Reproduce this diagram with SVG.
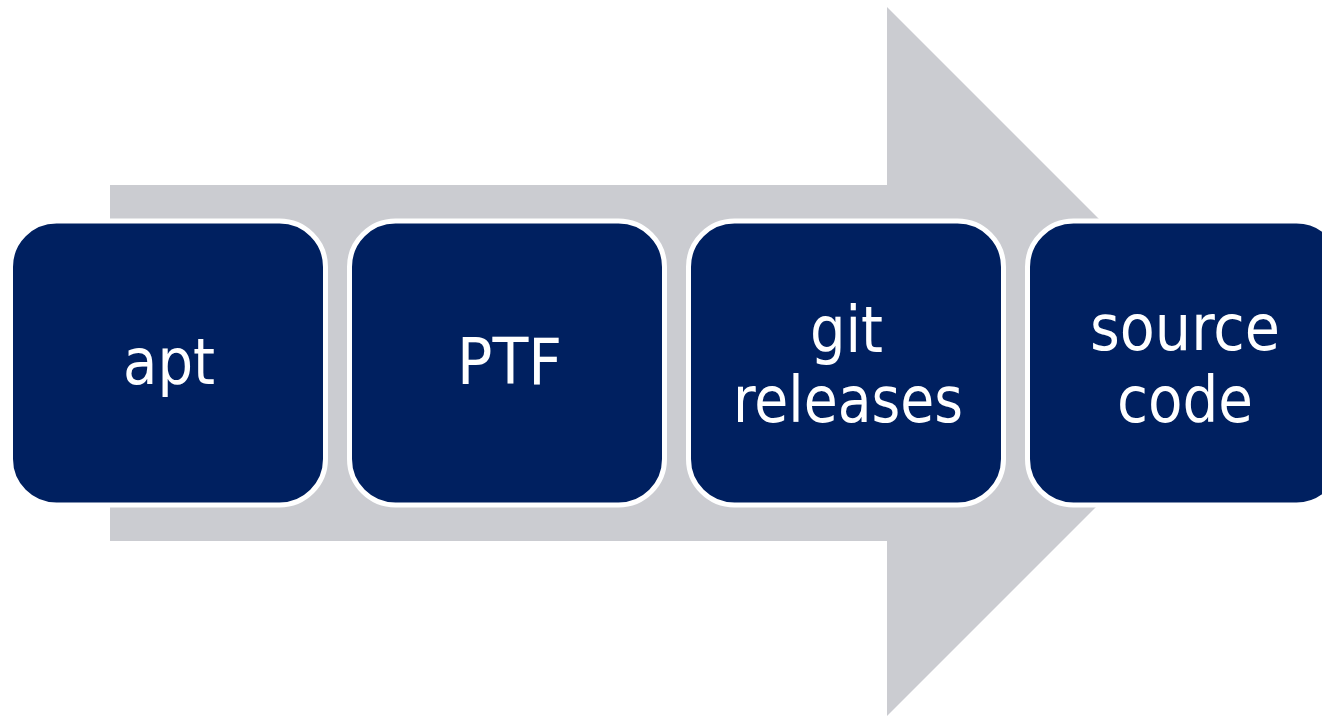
<svg xmlns="http://www.w3.org/2000/svg" width="1322" height="716" viewBox="0 0 1322 716">
<style>
.box{fill:#002060;stroke:#ffffff;stroke-width:5}
.lbl{fill:#ffffff;font-family:"DejaVu Sans Condensed","DejaVu Sans",sans-serif;font-size:64px;text-anchor:middle}
</style>
<rect width="1322" height="716" fill="#ffffff"/>
<g id="connectors">
<polygon points="110,185 887,185 887,7 1241.5,361.5 887,716 887,541 110,541" fill="#CBCCD1"/>
</g>
<g id="node-apt">
<rect class="box" x="10.5" y="221" width="315" height="284" rx="46" ry="46"/>
<text class="lbl" x="169" y="384" textLength="92" lengthAdjust="spacingAndGlyphs">apt</text>
</g>
<g id="node-ptf">
<rect class="box" x="349.5" y="221" width="315" height="284" rx="46" ry="46"/>
<text class="lbl" x="509.5" y="384" textLength="105" lengthAdjust="spacingAndGlyphs">PTF</text>
</g>
<g id="node-git">
<rect class="box" x="688.5" y="221" width="315" height="284" rx="46" ry="46"/>
<text class="lbl" x="846.5" y="352" textLength="73" lengthAdjust="spacingAndGlyphs">git</text>
<text class="lbl" x="848" y="422" textLength="230" lengthAdjust="spacingAndGlyphs">releases</text>
</g>
<g id="node-source">
<rect class="box" x="1027.5" y="221" width="315" height="284" rx="46" ry="46"/>
<text class="lbl" x="1185" y="350" textLength="190" lengthAdjust="spacingAndGlyphs">source</text>
<text class="lbl" x="1185" y="422" textLength="136" lengthAdjust="spacingAndGlyphs">code</text>
</g>
</svg>
